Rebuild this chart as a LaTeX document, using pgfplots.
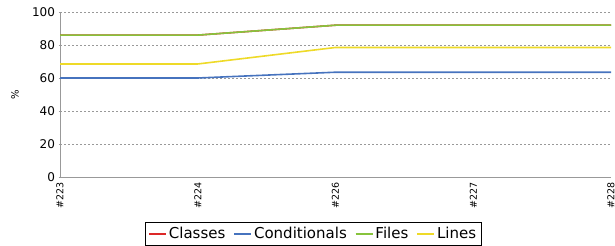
\documentclass[border=0pt]{standalone}
\usepackage{fontspec}
\setmainfont{DejaVu Sans}
\usepackage{pgfplots}
\pgfplotsset{compat=1.18}
\definecolor{cred}{RGB}{220,40,40}
\definecolor{cblue}{RGB}{70,115,190}
\definecolor{cgreen}{RGB}{135,195,60}
\definecolor{cyellow}{RGB}{238,218,40}
\pgfplotsset{mylegimg/.style={legend image code/.code={\draw[##1, line width=1.6pt] (0pt,0pt) -- (20pt,0pt);}}}
\begin{document}
\begin{tikzpicture}[x=1pt,y=1pt]
\useasboundingbox (0,0) rectangle (615,246);
\begin{axis}[
  at={(60pt,69pt)}, anchor=origin,
  scale only axis, width=551pt, height=165pt,
  xmin=0, xmax=4, ymin=0, ymax=100,
  xtick={0,1,2,3,4},
  xticklabels={\#223,\#224,\#226,\#227,\#228},
  xticklabel style={rotate=90, anchor=east, font=\fontsize{9.5}{10}\selectfont},
  ytick={0,20,40,60,80,100},
  yticklabel style={font=\fontsize{12}{13}\selectfont},
  /pgf/number format/assume math mode=true,
  axis x line=bottom, axis y line=left,
  axis line style={gray!80, -},
  major tick length=3pt,
  tick style={gray!80},
  xtick style={draw=none},
  ymajorgrids,
  grid style={gray!80, dash pattern=on 2pt off 2pt, line width=0.6pt},
  ylabel={\%}, ylabel style={font=\fontsize{13}{14}\selectfont},
  every axis y label/.style={at={(-45pt,0.5)}, rotate=90, anchor=center},
  legend columns=-1,
  legend style={at={(0.4595,-0.273)}, anchor=north, draw=black, line width=0.6pt,
    font=\fontsize{15}{17}\selectfont, inner sep=3pt,
    /tikz/every even column/.append style={column sep=6pt}},
  every axis plot/.append style={line width=1.6pt, mark=none},
  clip=false,
]
\addplot[cred] coordinates {(0,86) (1,86) (2,92) (3,92) (4,92)};
\addplot[cblue] coordinates {(0,60) (1,60) (2,63.5) (3,63.5) (4,63.5)};
\addplot[cgreen] coordinates {(0,86) (1,86) (2,92) (3,92) (4,92)};
\addplot[cyellow] coordinates {(0,68.5) (1,68.5) (2,78.5) (3,78.5) (4,78.5)};
\legend{Classes,Conditionals,Files,Lines}
\end{axis}
\end{tikzpicture}
\end{document}
